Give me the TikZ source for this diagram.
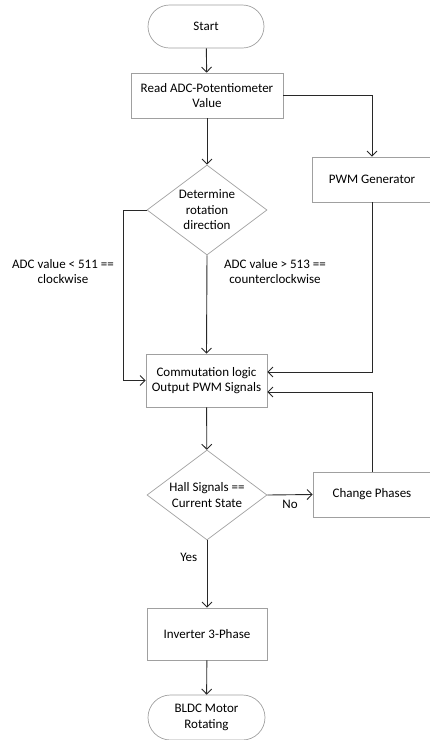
\documentclass[tikz,border=0pt]{standalone}
\usepackage{fontspec}
\setmainfont{Carlito}
\usetikzlibrary{shapes.geometric,shapes.misc,calc}
\usepgflibrary{arrows.meta}
\definecolor{boxgray}{RGB}{160,160,160}
\definecolor{linegray}{RGB}{40,40,40}

\begin{document}
\begin{tikzpicture}[x=1pt,y=-1pt,
		font=\fontsize{13}{15.5}\selectfont,
		block/.style={draw=boxgray,line width=0.7pt,rectangle,align=center,inner sep=2pt},
		term/.style={draw=boxgray,line width=0.7pt,rounded rectangle,align=center,inner sep=2pt},
		decide/.style={draw=boxgray,line width=0.7pt,diamond,aspect=1.33,align=center,inner sep=0pt,minimum width=120pt,minimum height=90pt},
		flow/.style={draw=linegray,line width=0.9pt,-{Straight Barb[length=5pt,width=10pt]}}]
		\useasboundingbox (0,0) rectangle (430,740);
		\node [term,minimum width=120pt,minimum height=43pt] (start) at (206,26.5) {Start};
		\node [block,minimum width=152pt,minimum height=45pt] (read) at (207,95.5) {Read ADC-Potentiometer\\Value};
		\node [decide] (dir) at (207,210) {Determine\\rotation\\direction};
		\node [block,minimum width=119pt,minimum height=45pt] (pwm) at (372,179.5) {PWM Generator};
		\node [block,minimum width=121pt,minimum height=53pt] (comm) at (206.5,380.5) {Commutation logic\\Output PWM Signals};
		\node [decide] (hall) at (207,495) {Hall Signals ==\\Current State};
		\node [block,minimum width=118pt,minimum height=45pt] (phase) at (372,494.5) {Change Phases};
		\node [block,minimum width=120pt,minimum height=52pt] (inv) at (207,634) {Inverter 3-Phase};
		\node [term,minimum width=121pt,minimum height=45pt] (bldc) at (206.5,717.5) {BLDC Motor\\Rotating};
		\node [align=center] (cwlabel) at (63,271.5) {ADC value < 511 ==\\clockwise};
		\node [align=center] (ccwlabel) at (275,271.5) {ADC value > 513 ==\\counterclockwise};
		\coordinate (cwbend) at (123,210);

		\draw [flow] (start) -- (read);
		\draw [flow] (read.east) -| (pwm.north);
		\draw [flow] (read) -- (dir);
		\draw [flow] (dir.west) -- (cwbend) |- (comm.west);
		\draw [flow] (dir.south) -- (comm.north);
		\draw [flow] (pwm.south) |- ([yshift=8.5pt]comm.east);
		\draw [flow] (phase.north) |- ([yshift=-11.5pt]comm.east);
		\draw [flow] (comm) -- (hall);
		\draw [flow] (hall.east) -- (phase.west) node[pos=0.5,below=2pt] (nolabel) {No};
		\draw [flow] (hall.south) -- (inv.north) node[pos=0.25,left=6pt] (yeslabel) {Yes};
		\draw [flow] (inv) -- (bldc);
	\end{tikzpicture}
\end{document}
